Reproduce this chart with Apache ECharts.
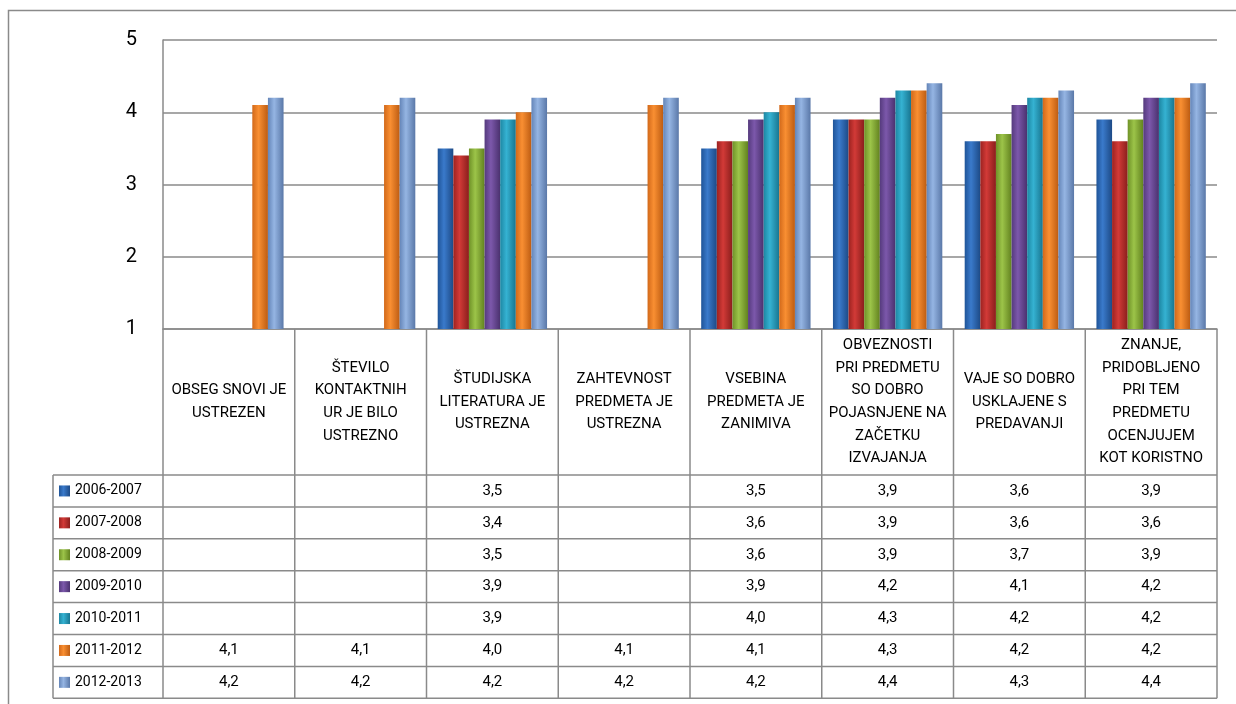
<!DOCTYPE html>
<html>
<head>
<meta charset="utf-8">
<script src="https://cdn.jsdelivr.net/npm/echarts@6/dist/echarts.min.js"></script>
<style>html,body{margin:0;padding:0;background:#fff}#c{width:1236px;height:704px}</style>
</head>
<body>
<div id="c"></div>
<script>
var categories = [
  'OBSEG SNOVI JE\nUSTREZEN',
  'ŠTEVILO\nKONTAKTNIH\nUR JE BILO\nUSTREZNO',
  'ŠTUDIJSKA\nLITERATURA JE\nUSTREZNA',
  'ZAHTEVNOST\nPREDMETA JE\nUSTREZNA',
  'VSEBINA\nPREDMETA JE\nZANIMIVA',
  'OBVEZNOSTI\nPRI PREDMETU\nSO DOBRO\nPOJASNJENE NA\nZAČETKU\nIZVAJANJA',
  'VAJE SO DOBRO\nUSKLAJENE S\nPREDAVANJI',
  'ZNANJE,\nPRIDOBLJENO\nPRI TEM\nPREDMETU\nOCENJUJEM\nKOT KORISTNO'
];
var seriesNames = ['2006-2007','2007-2008','2008-2009','2009-2010','2010-2011','2011-2012','2012-2013'];
var v2006 = [null, null, 3.5, null, 3.5, 3.9, 3.6, 3.9];
var v2007 = [null, null, 3.4, null, 3.6, 3.9, 3.6, 3.6];
var v2008 = [null, null, 3.5, null, 3.6, 3.9, 3.7, 3.9];
var v2009 = [null, null, 3.9, null, 3.9, 4.2, 4.1, 4.2];
var v2010 = [null, null, 3.9, null, 4.0, 4.3, 4.2, 4.2];
var v2011 = [4.1, 4.1, 4.0, 4.1, 4.1, 4.3, 4.2, 4.2];
var v2012 = [4.2, 4.2, 4.2, 4.2, 4.2, 4.4, 4.3, 4.4];
var seriesValues = [v2006, v2007, v2008, v2009, v2010, v2011, v2012];
var yTicks = [1, 2, 3, 4, 5];

var colors = [
  ['#1f5498','#3a7acb','#1d4a86'],
  ['#9c2220','#d23a37','#8a1e1c'],
  ['#6f9228','#9cc449','#62821f'],
  ['#553a7d','#7c58ab','#4a316e'],
  ['#1d87a3','#35b2d2','#187590'],
  ['#d2691a','#f98f32','#bd5c12'],
  ['#6485b8','#95b5e3','#5a78a8']
];
function grad(c){
  return new echarts.graphic.LinearGradient(0,0,1,0,[
    {offset:0,color:c[0]},{offset:0.4,color:c[1]},{offset:1,color:c[2]}
  ]);
}
var FONT = 'Roboto';
var LINE = '#8a8a8a';

var chart = echarts.init(document.getElementById('c'));
var option = {
  animation:false,
  grid:{left:163, top:40, right:19, bottom:375, containLabel:false},
  xAxis:{
    type:'category', data:categories,
    axisTick:{show:false},
    axisLine:{lineStyle:{color:LINE, width:1.5}},
    axisLabel:{interval:0, margin:73, verticalAlign:'middle', fontFamily:FONT, fontSize:15, lineHeight:22.6, color:'#000', align:'center'}
  },
  yAxis:{
    type:'value', min:yTicks[0], max:yTicks[yTicks.length-1], interval:1,
    axisLine:{show:true, lineStyle:{color:LINE, width:1.5}},
    axisTick:{show:false},
    splitLine:{lineStyle:{color:LINE, width:1.5}},
    axisLabel:{fontFamily:FONT, fontSize:20, color:'#000', margin:26}
  },
  series: seriesNames.map(function(n,i){
    return {
      name:n, type:'bar', data:seriesValues[i],
      barGap:'0%', barCategoryGap:'17%',
      itemStyle:{color:grad(colors[i]), shadowBlur:4, shadowColor:'rgba(0,0,0,0.3)', shadowOffsetX:1, shadowOffsetY:1}
    };
  })
};
chart.setOption(option);

// data table drawn from the axis scale
var centers = categories.map(function(c,i){ return chart.convertToPixel({xAxisIndex:0}, i); });
var step = centers.length > 1 ? centers[1]-centers[0] : 130;
var bounds = [centers[0]-step/2];
centers.forEach(function(c){ bounds.push(c+step/2); });
var yBase = chart.convertToPixel({yAxisIndex:0}, yTicks[0]);
var legendLeft = 53;
var headerBottom = 475;
var rowH = 31.9;
var tableBottom = headerBottom + rowH*seriesNames.length;
var els = [];
function line(x1,y1,x2,y2){
  els.push({type:'line', shape:{x1:x1,y1:y1,x2:x2,y2:y2}, style:{stroke:LINE, lineWidth:1.5}, silent:true});
}
// outer border
els.push({type:'rect', shape:{x:8.5,y:10.5,width:1240,height:720}, style:{fill:null, stroke:LINE, lineWidth:1.5}, silent:true});
// vertical lines
bounds.forEach(function(b){ line(b, yBase, b, tableBottom); });
line(legendLeft, headerBottom, legendLeft, tableBottom);
// horizontal lines
for (var r=0;r<=seriesNames.length;r++){
  var y = headerBottom + rowH*r;
  line(legendLeft, y, bounds[bounds.length-1], y);
}
// legend keys + values
seriesNames.forEach(function(n,i){
  var cy = headerBottom + rowH*i + rowH/2;
  els.push({type:'rect', shape:{x:59,y:cy-5.5,width:11,height:11}, style:{fill:grad(colors[i])}, silent:true});
  els.push({type:'text', x:75, y:cy, style:{text:n, fontFamily:FONT, fontSize:14, fill:'#000', verticalAlign:'middle', align:'left'}, silent:true});
  seriesValues[i].forEach(function(v,j){
    if (v===null || v===undefined) return;
    els.push({type:'text', x:centers[j], y:cy, style:{text:v.toFixed(1).replace('.',','), fontFamily:FONT, fontSize:15, fill:'#000', verticalAlign:'middle', align:'center'}, silent:true});
  });
});
chart.setOption({graphic:{elements:els}});
</script>
</body>
</html>
